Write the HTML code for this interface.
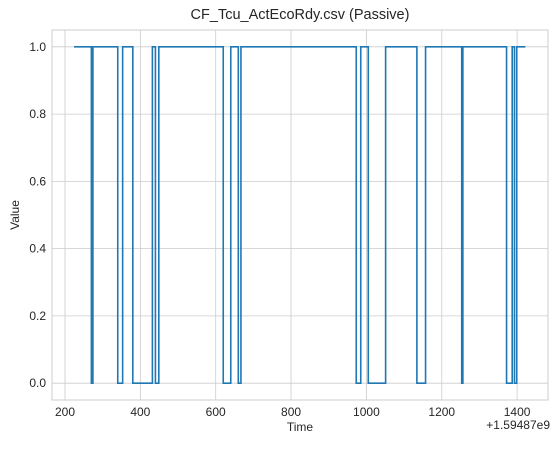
<!DOCTYPE html>
<html><head><meta charset="utf-8"><style>
body{margin:0;background:#fff;}
svg text{font-family:"Liberation Sans","DejaVu Sans",sans-serif;fill:#262626;}
</style></head><body>
<svg id="c" width="557" height="444"></svg>
<script>
const times=[224,270,274,340,353,380,432,440,449,620,640,660,667,973,985,1005,1051,1134,1157,1253,1256,1372,1387,1393,1399,1422];
const values=[1,0,1,0,1,0,1,0,1,0,1,0,1,0,1,0,1,0,1,0,1,0,1,0,1,1];
const xTicks=[200,400,600,800,1000,1200,1400];
const yTicks=[0,0.2,0.4,0.6,0.8,1.0];
const L=52,R=548,T=30,B=400,xmin=165.5,xmax=1482,ymin=-0.05,ymax=1.05;
const X=v=>L+(v-xmin)/(xmax-xmin)*(R-L);
const Y=v=>B-(v-ymin)/(ymax-ymin)*(B-T);
const s=document.getElementById('c'),NS='http://www.w3.org/2000/svg';
function mk(t,a,p){const e=document.createElementNS(NS,t);for(const k in a)e.setAttribute(k,a[k]);(p||s).appendChild(e);return e;}
const bg=mk('rect',{x:L,y:T,width:R-L,height:B-T,fill:'#fff'});


xTicks.forEach(v=>{
 const g=mk('line',{x1:X(v),x2:X(v),y1:T,y2:B,stroke:'#cccccc','stroke-width':0.8});
 
 
 const t=mk('text',{x:X(v),y:B+16,'text-anchor':'middle','font-size':12});t.textContent=v;
 
 
});
yTicks.forEach(v=>{
 const g=mk('line',{x1:L,x2:R,y1:Y(v),y2:Y(v),stroke:'#cccccc','stroke-width':0.8});
 
 
 const t=mk('text',{x:L-6,y:Y(v)+4,'text-anchor':'end','font-size':12});t.textContent=v.toFixed(1);
 
 
});
const fr=mk('rect',{x:L,y:T,width:R-L,height:B-T,fill:'none',stroke:'#cccccc','stroke-width':1});


let d='M'+X(times[0])+','+Y(values[0]);
for(let i=1;i<times.length;i++){d+=' H'+X(times[i])+' V'+Y(values[i]);}
const p=mk('path',{d:d,fill:'none',stroke:'#1f77b4','stroke-width':1.6});


const tt=mk('text',{x:(L+R)/2,y:19,'text-anchor':'middle','font-size':14.5});tt.textContent='CF_Tcu_ActEcoRdy.csv (Passive)';


const xl=mk('text',{x:(L+R)/2,y:431,'text-anchor':'middle','font-size':12});xl.textContent='Time';


const off=mk('text',{x:R+2,y:429,'text-anchor':'end','font-size':12});off.textContent='+1.59487e9';


const yl=mk('text',{x:19,y:(T+B)/2,'text-anchor':'middle','font-size':12,transform:'rotate(-90 19 '+((T+B)/2)+')'});yl.textContent='Value';


</script>
</body></html>
